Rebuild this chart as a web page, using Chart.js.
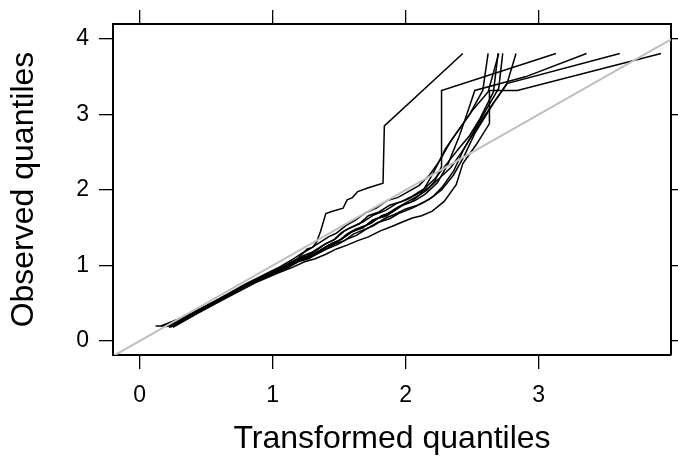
<!DOCTYPE html>
<html>
<head>
<meta charset="utf-8">
<script src="https://cdn.jsdelivr.net/npm/chart.js@4"></script>
<style>
	html, body { margin: 0; padding: 0; background: #fff; }
	#wrap { width: 678px; height: 464px; }
</style>
</head>
<body>
<div id="wrap"><canvas id="qqChart" width="678" height="464"></canvas></div>
<script>
// quantile traces (x = transformed, y = observed)
const q1x = [0.20, 0.35, 0.55, 0.80, 1.00, 1.10, 1.18, 1.26, 1.30, 1.33, 1.36, 1.40, 1.45, 1.53, 1.56, 1.60, 1.64, 1.72, 1.83, 1.84, 2.43];
const q1y = [0.19, 0.33, 0.51, 0.75, 0.92, 1.00, 1.08, 1.22, 1.24, 1.31, 1.45, 1.69, 1.72, 1.76, 1.87, 1.90, 1.98, 2.03, 2.09, 2.85, 3.81];

const q2x = [0.22, 0.40, 0.60, 0.85, 1.00, 1.10, 1.20, 1.28, 1.35, 1.42, 1.50, 1.56, 1.62, 1.70, 1.78, 1.86, 1.95, 2.04, 2.12, 2.20, 2.30, 2.40, 2.48, 2.58, 2.62];
const q2y = [0.18, 0.36, 0.55, 0.78, 0.90, 0.99, 1.08, 1.12, 1.19, 1.27, 1.33, 1.42, 1.48, 1.53, 1.62, 1.66, 1.78, 1.84, 1.96, 2.20, 2.55, 2.80, 3.00, 3.32, 3.81];

const q3x = [0.18, 0.38, 0.58, 0.82, 1.00, 1.09, 1.18, 1.25, 1.32, 1.40, 1.48, 1.54, 1.60, 1.68, 1.75, 1.84, 1.92, 2.00, 2.10, 2.16, 2.22, 2.27, 2.27, 3.13];
const q3y = [0.20, 0.35, 0.53, 0.76, 0.91, 0.97, 1.05, 1.12, 1.16, 1.25, 1.30, 1.38, 1.45, 1.50, 1.60, 1.66, 1.75, 1.83, 1.93, 2.00, 2.12, 2.31, 3.32, 3.81];

const q4x = [0.24, 0.42, 0.62, 0.86, 1.02, 1.12, 1.22, 1.30, 1.38, 1.45, 1.52, 1.59, 1.66, 1.74, 1.82, 1.90, 1.98, 2.07, 2.15, 2.24, 2.32, 2.40, 2.45, 2.52, 2.90, 3.36];
const q4y = [0.19, 0.37, 0.56, 0.78, 0.92, 1.00, 1.10, 1.15, 1.22, 1.30, 1.35, 1.44, 1.50, 1.56, 1.66, 1.71, 1.80, 1.86, 1.95, 2.10, 2.35, 2.70, 2.95, 3.32, 3.50, 3.81];

const q5x = [0.16, 0.36, 0.56, 0.80, 0.98, 1.07, 1.16, 1.23, 1.30, 1.38, 1.46, 1.52, 1.58, 1.65, 1.72, 1.80, 1.88, 1.97, 2.05, 2.14, 2.22, 2.31, 2.40, 2.48, 2.56, 2.66, 2.695];
const q5y = [0.20, 0.34, 0.52, 0.75, 0.90, 0.97, 1.06, 1.13, 1.18, 1.27, 1.34, 1.44, 1.50, 1.55, 1.66, 1.71, 1.80, 1.85, 1.92, 2.02, 2.15, 2.35, 2.55, 2.72, 2.95, 3.30, 3.81];

const q6x = [0.21, 0.41, 0.61, 0.83, 1.01, 1.10, 1.19, 1.27, 1.34, 1.42, 1.49, 1.56, 1.63, 1.71, 1.79, 1.88, 1.96, 2.05, 2.14, 2.21, 2.28, 2.36, 2.44, 2.52, 2.60, 2.70, 2.73];
const q6y = [0.19, 0.37, 0.55, 0.76, 0.89, 0.96, 1.05, 1.09, 1.16, 1.23, 1.28, 1.35, 1.40, 1.49, 1.57, 1.62, 1.70, 1.76, 1.84, 1.92, 2.05, 2.25, 2.55, 2.80, 3.05, 3.35, 3.81];

const q7x = [0.23, 0.43, 0.63, 0.84, 1.03, 1.12, 1.21, 1.29, 1.37, 1.46, 1.54, 1.61, 1.68, 1.76, 1.84, 1.92, 2.00, 2.09, 2.18, 2.27, 2.36, 2.44, 2.52, 2.59, 2.66, 2.76, 2.83];
const q7y = [0.18, 0.37, 0.56, 0.77, 0.91, 0.98, 1.07, 1.12, 1.19, 1.28, 1.33, 1.42, 1.47, 1.53, 1.62, 1.68, 1.75, 1.80, 1.88, 2.00, 2.20, 2.45, 2.75, 2.95, 3.15, 3.40, 3.81];

const q8x = [0.19, 0.39, 0.59, 0.81, 0.99, 1.08, 1.17, 1.25, 1.33, 1.40, 1.47, 1.54, 1.61, 1.68, 1.76, 1.85, 1.93, 2.02, 2.10, 2.18, 2.25, 2.34, 2.42, 2.50, 2.58, 2.76, 3.61];
const q8y = [0.20, 0.36, 0.54, 0.76, 0.90, 0.99, 1.07, 1.12, 1.20, 1.29, 1.35, 1.46, 1.52, 1.58, 1.67, 1.73, 1.82, 1.88, 1.96, 2.04, 2.15, 2.30, 2.50, 2.72, 2.95, 3.41, 3.81];

const q9x = [0.25, 0.45, 0.65, 0.87, 1.04, 1.14, 1.24, 1.32, 1.40, 1.48, 1.56, 1.64, 1.72, 1.81, 1.90, 1.98, 2.05, 2.12, 2.20, 2.29, 2.38, 2.43, 2.53, 2.63, 2.63, 2.84, 3.92];
const q9y = [0.18, 0.38, 0.57, 0.77, 0.90, 0.97, 1.05, 1.09, 1.15, 1.22, 1.27, 1.33, 1.38, 1.46, 1.52, 1.58, 1.63, 1.66, 1.72, 1.85, 2.07, 2.35, 2.60, 2.88, 3.32, 3.32, 3.81];

const q10x = [0.12, 0.17, 0.37, 0.57, 0.79, 0.97, 1.06, 1.14, 1.21, 1.28, 1.35, 1.42, 1.48, 1.55, 1.62, 1.70, 1.78, 1.86, 1.94, 2.02, 2.10, 2.18, 2.26, 2.34, 2.42, 2.50, 2.62, 2.70];
const q10y = [0.20, 0.20, 0.34, 0.53, 0.75, 0.91, 0.99, 1.07, 1.15, 1.22, 1.30, 1.38, 1.43, 1.53, 1.60, 1.70, 1.76, 1.86, 1.90, 1.98, 2.06, 2.20, 2.40, 2.65, 2.85, 3.05, 3.30, 3.81];

// reference line y = x
const refX = [-0.2, 4.0];
const refY = [-0.2, 4.0];

const xTicks = [0, 1, 2, 3];
const yTicks = [0, 1, 2, 3, 4];
const xRange = [-0.2, 3.995];
const yRange = [-0.185, 4.2];

const traces = [
	[q1x, q1y], [q2x, q2y], [q3x, q3y], [q4x, q4y], [q5x, q5y],
	[q6x, q6y], [q7x, q7y], [q8x, q8y], [q9x, q9y], [q10x, q10y]
];

function toPoints(xs, ys) {
	return xs.map((x, i) => ({ x: x, y: ys[i] }));
}

const FONT = '"Liberation Sans", Arial, Helvetica, sans-serif';

const datasets = [{
	data: toPoints(refX, refY),
	borderColor: '#bebebe',
	borderWidth: 2,
	showLine: true,
	pointRadius: 0,
	fill: false
}];

traces.forEach(t => {
	datasets.push({
		data: toPoints(t[0], t[1]),
		borderColor: '#000000',
		borderWidth: 1.5,
		showLine: true,
		pointRadius: 0,
		fill: false,
		tension: 0
	});
});

function fixedTicks(list) {
	return function(scale) {
		scale.ticks = list.map(v => ({ value: v }));
	};
}

function axisBase(range, list) {
	return {
		type: 'linear',
		min: range[0],
		max: range[1],
		afterBuildTicks: fixedTicks(list),
		grid: {
			drawOnChartArea: false,
			drawTicks: true,
			tickLength: 14,
			color: '#000000',
			lineWidth: 1.3
		},
		border: { display: true, color: '#000000', width: 2 }
	};
}

const xBottom = axisBase(xRange, xTicks);
xBottom.position = 'bottom';
xBottom.ticks = { color: '#000', font: { family: FONT, size: 23 }, padding: 13, maxRotation: 0 };
xBottom.title = { display: true, text: 'Transformed quantiles', color: '#000', font: { family: FONT, size: 32 }, padding: { top: 4, bottom: 6 } };
xBottom.afterFit = s => { s.height = 109; };

const xTop = axisBase(xRange, xTicks);
xTop.position = 'top';
xTop.ticks = { display: false };
xTop.afterFit = s => { s.height = 24; };

const yLeft = axisBase(yRange, yTicks);
yLeft.position = 'left';
yLeft.ticks = { color: '#000', font: { family: FONT, size: 23 }, padding: 10 };
yLeft.title = { display: true, text: 'Observed quantiles', color: '#000', font: { family: FONT, size: 32 }, padding: { top: 5, bottom: 4 } };
yLeft.afterFit = s => { s.width = 113; };

const yRight = axisBase(yRange, yTicks);
yRight.position = 'right';
yRight.ticks = { display: false };
yRight.afterFit = s => { s.width = 7; };

const ctx = document.getElementById('qqChart').getContext('2d');
const qqChart = new Chart(ctx, {
	type: 'scatter',
	data: { datasets: datasets },
	options: {
		responsive: false,
		animation: false,
		layout: { padding: 0 },
		scales: {
			x: xBottom,
			x2: xTop,
			y: yLeft,
			y2: yRight
		},
		plugins: {
			legend: { display: false },
			tooltip: { enabled: false }
		}
	}
});
</script>
</body>
</html>
